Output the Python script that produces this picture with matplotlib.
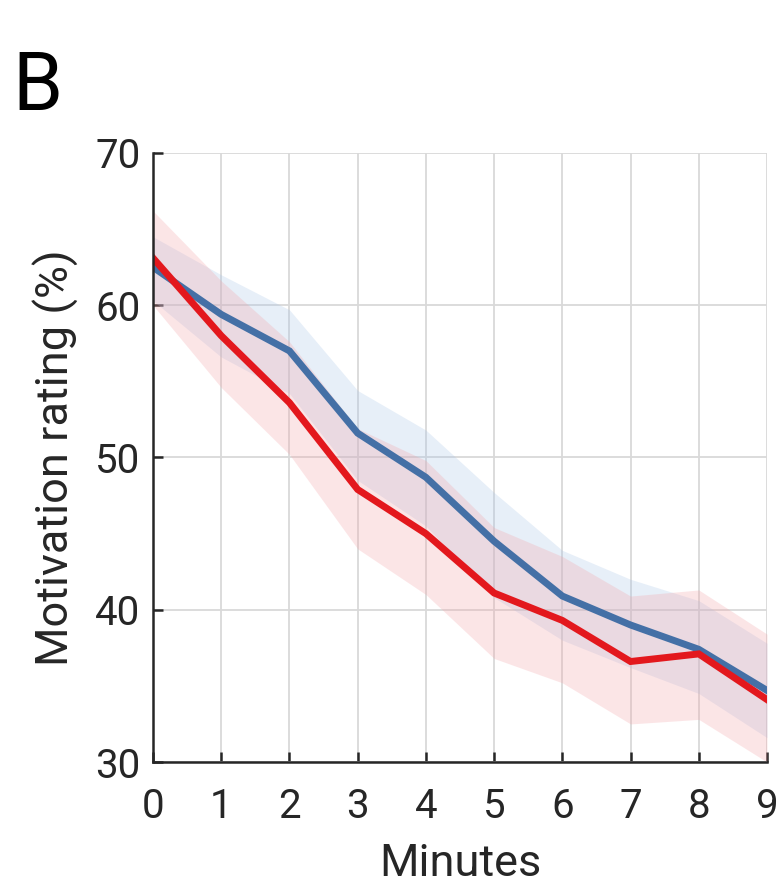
import matplotlib
matplotlib.use("Agg")
import matplotlib.pyplot as plt

minutes = [0, 1, 2, 3, 4, 5, 6, 7, 8, 9]
blue_mean = [62.5, 59.4, 57.0, 51.6, 48.7, 44.5, 40.9, 39.0, 37.4, 34.7]
blue_upper = [64.5, 62.0, 59.7, 54.4, 51.8, 47.7, 43.9, 42.0, 40.6, 37.8]
blue_lower = [60.3, 56.6, 54.2, 48.5, 45.5, 40.8, 38.0, 36.2, 34.5, 31.6]
red_mean = [63.1, 58.0, 53.6, 47.9, 45.0, 41.1, 39.3, 36.6, 37.1, 34.1]
red_upper = [66.2, 61.6, 57.6, 51.9, 49.8, 45.4, 43.5, 40.9, 41.3, 38.4]
red_lower = [60.0, 54.6, 50.2, 44.0, 41.0, 36.8, 35.2, 32.5, 32.8, 30.0]

plt.rcParams['font.family'] = ['Roboto', 'DejaVu Sans']

fig = plt.figure(figsize=(7.78, 8.92), dpi=100)
ax = fig.add_axes([153/778, 1-762/892, (767-153)/778, (762-153)/892])

ax.fill_between(minutes, blue_lower, blue_upper, color='#a9c6e8', alpha=0.28, lw=0)
ax.fill_between(minutes, red_lower, red_upper, color='#f4a3a8', alpha=0.28, lw=0)
ax.plot(minutes, blue_mean, color='#4470a6', lw=5, solid_joinstyle='miter')
ax.plot(minutes, red_mean, color='#e3181d', lw=5, solid_joinstyle='miter')

ax.set_xlim(0, 9)
ax.set_ylim(30, 70)
ax.set_xticks(minutes)
ax.set_yticks([30, 40, 50, 60, 70])
ax.grid(True, color='#d9d9d9', lw=1.3)
ax.set_axisbelow(True)
for s in ['top', 'right']:
    ax.spines[s].set_visible(False)
for s in ['left', 'bottom']:
    ax.spines[s].set_color('#262626')
    ax.spines[s].set_linewidth(1.8)
ax.tick_params(direction='in', length=7, width=1.8, colors='#262626',
               labelsize=29, labelcolor='#262626')
ax.tick_params(axis='x', pad=18)
ax.tick_params(axis='y', pad=9)
ax.set_xlabel('Minutes', fontsize=32.5, color='#262626', labelpad=12)
ax.set_ylabel('Motivation rating (%)', fontsize=32.5, color='#262626', labelpad=12)

fig.text(12/778, 1-110/892, 'B', fontsize=58, color='black', ha='left', va='baseline')

fig.savefig('out.png', dpi=100)
